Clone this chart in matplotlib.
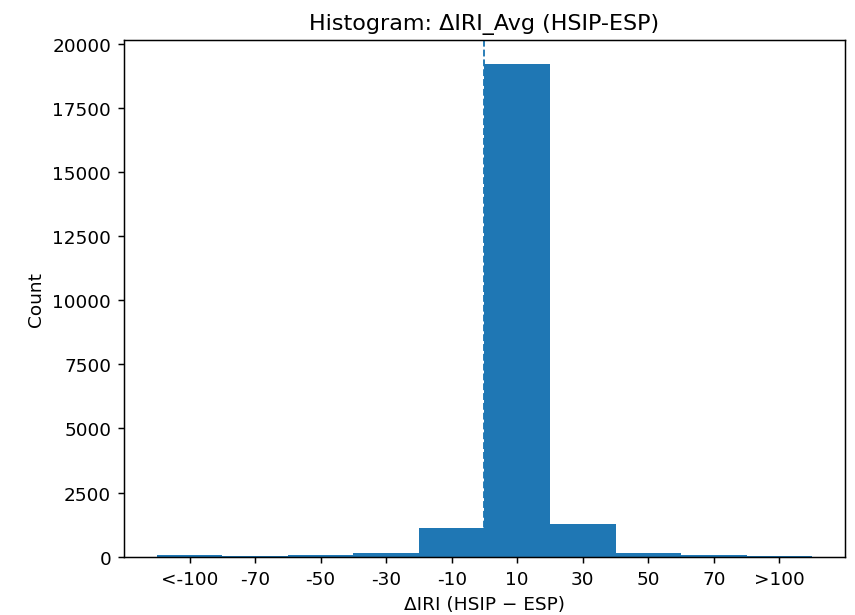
import matplotlib

matplotlib.use("Agg")
import matplotlib.pyplot as plt

# bin edges (delta IRI, clipped at +/-100) and counts
bin_left = [-100, -80, -60, -40, -20, 0, 20, 40, 60, 80]
bin_width = 20
counts = [55, 45, 50, 140, 1110, 19200, 1280, 140, 50, 45]
tick_labels = ["<-100", "-70", "-50", "-30", "-10", "10", "30", "50", "70", ">100"]


def main():
    fig = plt.figure(figsize=(6.42, 4.62), dpi=133.33)
    ax = fig.add_axes([0.145, 0.0946, 0.842, 0.8394])

    ax.bar(bin_left, counts, width=bin_width, align="edge", color="C0")
    ax.axvline(0, color="C0", linestyle="--", linewidth=1)

    centers = [b + bin_width / 2 for b in bin_left]
    ax.set_xticks(centers)
    ax.set_xticklabels(tick_labels)

    ax.set_title("Histogram: ΔIRI_Avg (HSIP-ESP)")
    ax.set_xlabel("ΔIRI (HSIP − ESP)")
    ax.set_ylabel("Count")

    fig.savefig("out.png", dpi=133.33)


if __name__ == "__main__":
    main()
